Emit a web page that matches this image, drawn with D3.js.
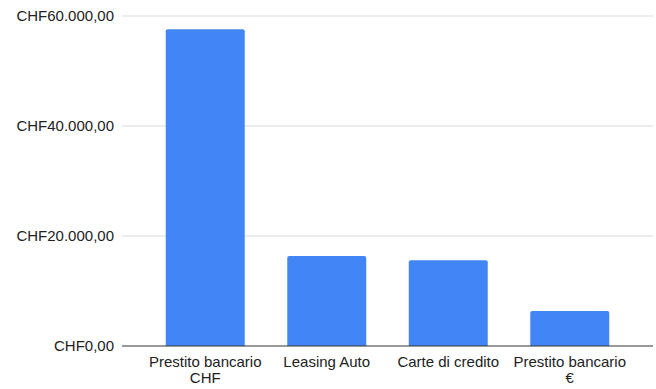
<!DOCTYPE html>
<html>
<head>
<meta charset="utf-8">
<script src="https://cdn.jsdelivr.net/npm/d3@7"></script>
<style>
  body { margin: 0; background: #fff; }
  svg text { font-family: "Liberation Sans", Arial, sans-serif; fill: #222; }
</style>
</head>
<body>
<svg id="chart" width="656" height="389"></svg>
<script>
// data
const categories = [["Prestito bancario", "CHF"], ["Leasing Auto"], ["Carte di credito"], ["Prestito bancario", "€"]];
const values = [57600, 16350, 15600, 6350];
const yTicks = [0, 20000, 40000, 60000];

let svg = d3.select('#chart');
let margin = {top: 16, left: 122, right: 3, bottom: 43};
let width = 656 - margin.left - margin.right;
let height = 389 - margin.top - margin.bottom;

let x = d3.scaleBand()
    .domain(d3.range(categories.length))
    .range([margin.left, margin.left + width])
    .paddingInner(0.35)
    .paddingOuter(0.36);

let y = d3.scaleLinear()
    .domain([0, 60000])
    .range([margin.top + height, margin.top]);

// CHF format, swiss-italian style in the sheet: CHF60.000,00
let fmt = v => 'CHF' + d3.format(',.2f')(v).replace(/,/g, '#').replace('.', ',').replace(/#/g, '.');

// gridlines
svg.append('g')
    .selectAll('line')
    .data(yTicks.filter(d => d > 0))
    .enter().append('line')
    .attr('x1', margin.left).attr('x2', margin.left + width)
    .attr('y1', d => y(d)).attr('y2', d => y(d))
    .attr('stroke', '#d9d9d9').attr('stroke-width', 1);

// y labels
svg.append('g')
    .selectAll('text')
    .data(yTicks)
    .enter().append('text')
    .attr('x', margin.left - 8)
    .attr('y', d => y(d))
    .attr('dy', '0.35em')
    .attr('text-anchor', 'end')
    .style('font-size', '15px')
    .text(fmt);

// bars with slightly rounded top
let r = 2;
svg.append('g')
    .selectAll('path')
    .data(values)
    .enter().append('path')
    .attr('fill', '#4285f4')
    .attr('d', (d, i) => {
        let x0 = x(i), x1 = x(i) + x.bandwidth();
        let y0 = y(0), y1 = y(d);
        return `M${x0},${y0}V${y1 + r}Q${x0},${y1} ${x0 + r},${y1}H${x1 - r}Q${x1},${y1} ${x1},${y1 + r}V${y0}Z`;
    });

// baseline
svg.append('line')
    .attr('x1', margin.left).attr('x2', margin.left + width)
    .attr('y1', y(0)).attr('y2', y(0))
    .attr('stroke', '#333').attr('stroke-width', 1);

// category labels
let lbl = svg.append('g')
    .selectAll('text')
    .data(categories)
    .enter().append('text')
    .attr('text-anchor', 'middle')
    .style('font-size', '15px')
    .attr('x', (d, i) => x(i) + x.bandwidth() / 2)
    .attr('y', y(0) + 21);

lbl.selectAll('tspan')
    .data(d => d)
    .enter().append('tspan')
    .attr('x', function() { return d3.select(this.parentNode).attr('x'); })
    .attr('dy', (d, i) => i === 0 ? 0 : 16)
    .text(d => d);
</script>
</body>
</html>
